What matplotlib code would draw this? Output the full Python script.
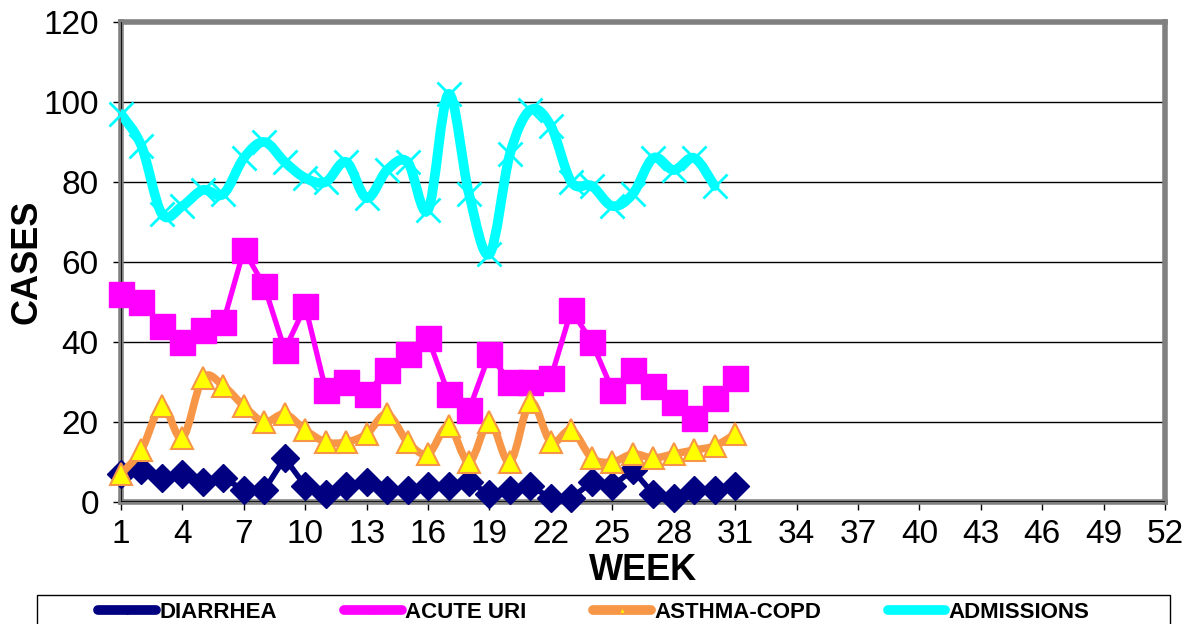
import numpy as np
import matplotlib.pyplot as plt
from matplotlib.path import Path
from matplotlib.patches import PathPatch, Rectangle
from matplotlib.lines import Line2D

plt.rcParams['font.family'] = ['Liberation Sans', 'DejaVu Sans']

# weekly case counts
weeks = list(range(1, 32))
diarrhea = [7, 8, 6, 7, 5, 6, 3, 3, 11, 4, 2, 4, 5, 3, 3, 4, 4, 5, 2, 3, 4, 1, 1, 5, 4, 8, 2, 1, 3, 3, 4]
acute_uri = [52, 50, 44, 40, 43, 45, 63, 54, 38, 49, 28, 30, 27, 33, 37, 41, 27, 23, 37, 30, 30, 31, 48, 40, 28, 33, 29, 25, 21, 26, 31]
asthma_copd = [7, 13, 24, 16, 31, 29, 24, 20, 22, 18, 15, 15, 17, 22, 15, 12, 19, 10, 20, 10, 25, 15, 18, 11, 10, 12, 11, 12, 13, 14, 17]
admissions = [97, 89, 72, 74, 78, 77, 86, 90, 85, 81, 80, 85, 76, 83, 85, 73, 102, 77, 62, 87, 98, 94, 80, 79, 74, 77, 86, 83, 86, 79]
adm_weeks = weeks[:len(admissions)]
week_ticks = list(range(1, 53, 3))
y_ticks = list(range(0, 121, 20))

NAVY = '#000080'
MAGENTA = '#FF00FF'
ORANGE = '#F79646'
YELLOW = '#FFFF00'
CYAN = '#00FFFF'


def smooth_path(xs, ys):
    # excel style smoothed line: catmull-rom turned into bezier segments
    pts = np.column_stack([xs, ys]).astype(float)
    n = len(pts)
    verts = [pts[0]]
    codes = [Path.MOVETO]
    for i in range(n - 1):
        p0 = pts[i - 1] if i > 0 else pts[i]
        p1 = pts[i]
        p2 = pts[i + 1]
        p3 = pts[i + 2] if i + 2 < n else pts[i + 1]
        verts += [p1 + (p2 - p0) / 6, p2 - (p3 - p1) / 6, p2]
        codes += [Path.CURVE4] * 3
    return Path(verts, codes)


fig = plt.figure(figsize=(11.9, 6.24), dpi=100)
ax = fig.add_axes([121 / 1190, 1 - 502 / 624, (1165 - 121) / 1190, (502 - 22) / 624])

ax.set_xlim(1, 52)
ax.set_ylim(0, 120)
ax.set_xticks(week_ticks)
ax.set_yticks(y_ticks)
ax.tick_params(labelsize=24, length=6, width=1, color='black')
ax.tick_params(axis='x', pad=6)
ax.tick_params(axis='y', pad=10)
ax.grid(axis='y', color='black', lw=1)
ax.set_axisbelow(True)
for s in ax.spines.values():
    s.set_color('#808080')
    s.set_linewidth(4)
ax.axhline(0, color='black', lw=1.2, zorder=3)
ax.axvline(1, color='black', lw=1.2, zorder=3)

ax.plot(weeks, diarrhea, color=NAVY, lw=4, marker='D', ms=14,
        clip_on=False, zorder=4)
ax.plot(weeks, acute_uri, color=MAGENTA, lw=3.8, marker='s', ms=18,
        clip_on=False, zorder=5)

ax.add_patch(PathPatch(smooth_path(weeks, asthma_copd), fill=False,
                       edgecolor=ORANGE, lw=5.5, zorder=6, capstyle='round'))
ax.plot(weeks, asthma_copd, ls='none', marker='^', ms=16, mfc=YELLOW,
        mec=ORANGE, mew=1.5, clip_on=False, zorder=7)

ax.add_patch(PathPatch(smooth_path(adm_weeks, admissions), fill=False,
                       edgecolor=CYAN, lw=7, zorder=8, capstyle='round'))
ax.plot(adm_weeks, admissions, ls='none', marker='x', ms=17, mew=2,
        color=CYAN, clip_on=False, zorder=9)

fig.text(27 / 1190, 1 - 262 / 624, 'CASES', fontsize=26, fontweight='bold',
         rotation=90, ha='center', va='center')
fig.text(643 / 1190, 1 - 570 / 624, 'WEEK', fontsize=26, fontweight='bold',
         ha='center', va='center')

# legend box at the bottom
fig.add_artist(Rectangle((37 / 1190, -0.1), (1170 - 37) / 1190, 0.1 + 1 - 595 / 624,
                         transform=fig.transFigure, fill=False,
                         edgecolor='black', lw=1))
handles = [
    Line2D([], [], color=NAVY, lw=7, marker='D', ms=4, solid_capstyle='round'),
    Line2D([], [], color=MAGENTA, lw=7, marker='s', ms=5, solid_capstyle='round'),
    Line2D([], [], color=ORANGE, lw=7, marker='^', ms=5, mfc=YELLOW,
           mec=ORANGE, solid_capstyle='round'),
    Line2D([], [], color=CYAN, lw=7, marker='x', ms=4, solid_capstyle='round'),
]
labels = ['DIARRHEA', 'ACUTE URI', 'ASTHMA-COPD', 'ADMISSIONS']
fig.legend(handles, labels, loc='center', bbox_to_anchor=(594 / 1190, 1 - 612 / 624),
           ncol=4, frameon=False, handlelength=2.6, handletextpad=0.15,
           columnspacing=3.0, borderpad=0, borderaxespad=0,
           prop={'size': 16, 'weight': 'bold'})

fig.savefig('out.png', dpi=100)
